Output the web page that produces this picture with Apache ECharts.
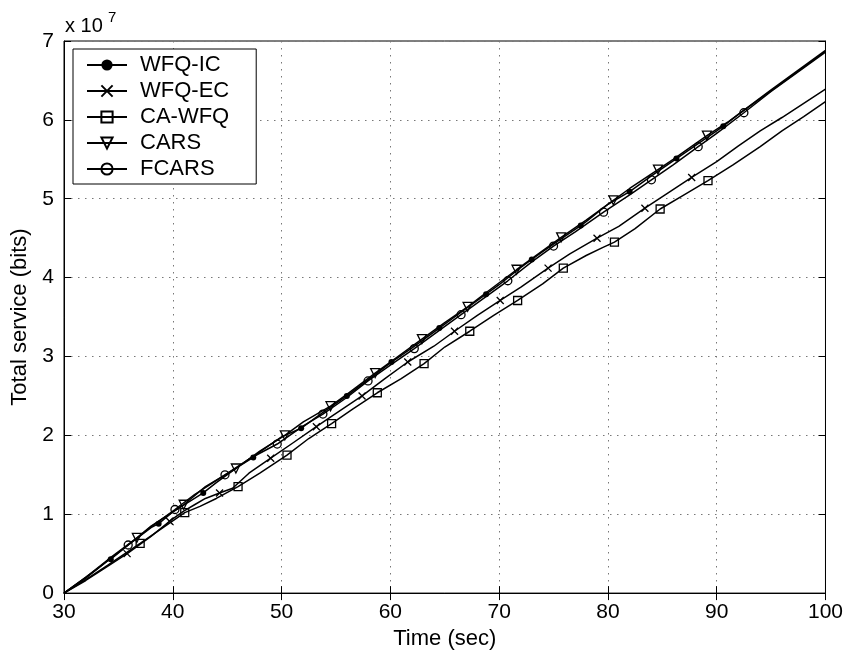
<!DOCTYPE html>
<html><head><meta charset="utf-8">
<script src="https://cdn.jsdelivr.net/npm/echarts@6/dist/echarts.min.js"></script>
<style>html,body{margin:0;padding:0;background:#fff}#c{width:846px;height:655px}</style>
</head><body><div id="c"></div><script>
// values in units of 10^7 bits
const xTickLabels = [30,40,50,60,70,80,90,100];
const yTickLabels = [0,1,2,3,4,5,6,7];
const seriesNames = ['WFQ-IC','WFQ-EC','CA-WFQ','CARS','FCARS'];

const wfqIcCurve = [[30,0],[32,0.19],[34,0.41],[36,0.62],[38,0.83],[40,1.03],[42,1.20],[44,1.40],[46,1.60],[48,1.79],[50,1.98],[52,2.11],[54,2.31],[56,2.50],[58,2.71],[60,2.92],[62,3.11],[64,3.31],[66,3.51],[68,3.71],[70,3.91],[72,4.13],[74,4.33],[76,4.52],[78,4.71],[80,4.93],[82,5.09],[84,5.29],[86,5.48],[88,5.67],[90,5.86],[92,6.07],[94,6.27],[96,6.47],[98,6.67],[100,6.87]];
const wfqIcMarks = [[34.3,0.43],[38.7,0.88],[42.8,1.27],[47.4,1.72],[51.8,2.09],[56.0,2.50],[60.1,2.93],[64.5,3.36],[68.8,3.79],[73.0,4.23],[77.5,4.66],[82.0,5.09],[86.3,5.51],[90.6,5.92]];

const wfqEcCurve = [[30,0],[32,0.16],[34,0.34],[36,0.52],[38,0.72],[40,0.94],[41,1.04],[42,1.12],[43,1.20],[45.5,1.33],[47,1.52],[51,1.90],[55,2.28],[59.5,2.72],[64,3.13],[68,3.52],[72,3.88],[76.5,4.30],[81,4.65],[85.5,5.07],[90,5.47],[92,5.67],[94,5.86],[96,6.03],[98,6.21],[100,6.39]];
const wfqEcMarks = [[35.8,0.50],[39.7,0.91],[44.3,1.27],[49.0,1.71],[53.2,2.11],[57.4,2.50],[61.6,2.93],[65.9,3.32],[70.1,3.71],[74.5,4.12],[79.0,4.50],[83.4,4.88],[87.7,5.27]];

const caWfqCurve = [[30,0],[32,0.17],[34,0.35],[39,0.82],[42.5,1.10],[44,1.20],[48,1.52],[52.5,1.96],[56.5,2.33],[61,2.72],[65,3.12],[69.5,3.52],[74,3.92],[78,4.28],[79.5,4.38],[82.5,4.62],[87,5.05],[91.5,5.43],[94,5.66],[96,5.86],[98,6.04],[100,6.23]];
const caWfqMarks = [[37.0,0.63],[41.1,1.02],[46.0,1.35],[50.5,1.75],[54.6,2.15],[58.8,2.54],[63.1,2.91],[67.3,3.32],[71.7,3.71],[75.9,4.12],[80.6,4.45],[84.8,4.87],[89.2,5.23]];

const carsCurve = [[30,0],[32,0.20],[34,0.42],[38,0.85],[43,1.35],[48,1.80],[52,2.17],[56,2.52],[60,2.93],[65,3.43],[69,3.83],[73,4.24],[78,4.73],[82,5.13],[86,5.50],[91,5.97],[95,6.38],[100,6.88]];
const carsMarks = [[36.7,0.70],[41.0,1.12],[45.8,1.58],[50.3,2.00],[54.5,2.37],[58.6,2.79],[62.9,3.22],[67.1,3.63],[71.6,4.10],[75.7,4.51],[80.5,4.98],[84.6,5.37],[89.1,5.80]];

const fcarsCurve = [[30,0],[33,0.30],[38,0.84],[42,1.25],[47,1.70],[52,2.12],[56,2.48],[60,2.89],[64,3.28],[68,3.68],[73,4.20],[77,4.58],[82,5.05],[86,5.43],[90,5.83],[95,6.36],[100,6.86]];
const fcarsMarks = [[35.9,0.61],[40.2,1.06],[44.8,1.50],[49.6,1.89],[53.8,2.27],[57.95,2.69],[62.2,3.10],[66.5,3.53],[70.8,3.96],[75.0,4.40],[79.6,4.83],[84.0,5.24],[88.3,5.66],[92.5,6.09]];

function merge(curve, marks){
  const pts = curve.map(p => ({value:[p[0],p[1]], symbol:'none'}))
    .concat(marks.map(p => ({value:[p[0],p[1]]})));
  pts.sort((a,b)=>a.value[0]-b.value[0]);
  return pts;
}

const FONT = '"Liberation Sans", Arial, Helvetica, sans-serif';
const hollow = 'rgba(0,0,0,0)';
function mk(name, curve, marks, symbol, size, filled, rotate){
  return {
    name, type:'line', data: merge(curve, marks),
    symbol, symbolSize:size, symbolRotate: rotate||0, showSymbol:true,
    lineStyle:{color:'#000', width:1.5},
    itemStyle:{color: filled ? '#000' : hollow, borderColor:'#000', borderWidth: filled?0:1.3},
    emphasis:{disabled:true}, animation:false, z: 3
  };
}

const chart = echarts.init(document.getElementById('c'), null, {renderer:'canvas'});
const axisLabelStyle = {color:'#000', fontSize:21, fontFamily:FONT};
const gridLine = {show:true, lineStyle:{color:'#777', width:1, type:[1.5,5.5]}};
const option = {
  backgroundColor:'#fff',
  animation:false,
  grid:{left:64, right:20, top:41, bottom:55, show:true, borderColor:'#000', borderWidth:1, backgroundColor:'transparent'},
  xAxis:[{
    type:'value', min:30, max:100, interval:10, position:'bottom',
    name:'Time (sec)', nameLocation:'middle', nameGap:28,
    nameTextStyle:{color:'#000', fontSize:22, fontFamily:FONT},
    axisLine:{show:true, lineStyle:{color:'#000', width:1}},
    axisTick:{show:true, inside:true, length:7, lineStyle:{color:'#000'}},
    axisLabel:Object.assign({margin:9, formatter: v => xTickLabels.includes(v) ? String(v) : ''}, axisLabelStyle),
    splitLine:gridLine
  },{
    type:'value', min:30, max:100, interval:10, position:'top',
    axisLine:{show:true, lineStyle:{color:'#000'}},
    axisTick:{show:true, inside:true, length:7, lineStyle:{color:'#000'}},
    axisLabel:{show:false}, splitLine:{show:false}
  }],
  yAxis:[{
    type:'value', min:0, max:7, interval:1, position:'left',
    name:'Total service (bits)', nameLocation:'middle', nameGap:30, nameRotate:90,
    nameTextStyle:{color:'#000', fontSize:22, fontFamily:FONT},
    axisLine:{show:true, lineStyle:{color:'#000', width:1}},
    axisTick:{show:true, inside:true, length:7, lineStyle:{color:'#000'}},
    axisLabel:Object.assign({margin:10, formatter: v => yTickLabels.includes(v) ? String(v) : ''}, axisLabelStyle),
    splitLine:gridLine
  },{
    type:'value', min:0, max:7, interval:1, position:'right',
    axisLine:{show:true, lineStyle:{color:'#000'}},
    axisTick:{show:true, inside:true, length:7, lineStyle:{color:'#000'}},
    axisLabel:{show:false}, splitLine:{show:false}
  }],
  legend:{
    data: seriesNames,
    orient:'vertical', left:73, top:49,
    backgroundColor:'#fff', borderColor:'#000', borderWidth:1, borderRadius:0,
    padding:[5,27,4,13],
    itemWidth:40, itemHeight:14, itemGap:4.0,
    textStyle:{color:'#000', fontSize:22, fontFamily:FONT, lineHeight:21, padding:[0,0,0,8]},
    selectedMode:false
  },
  graphic:[
    {type:'text', left:65, top:16, style:{text:'x 10', fontSize:20, fontFamily:FONT, fill:'#000'}},
    {type:'text', left:108, top:10, style:{text:'7', fontSize:15, fontFamily:FONT, fill:'#000'}}
  ],
  series:[
    mk('WFQ-IC', wfqIcCurve, wfqIcMarks, 'circle', 6, true),
    mk('WFQ-EC', wfqEcCurve, wfqEcMarks, 'path://M0,0L10,10M10,0L0,10', 7, false),
    mk('CA-WFQ', caWfqCurve, caWfqMarks, 'rect', 8, false),
    mk('CARS', carsCurve, carsMarks, 'triangle', 9, false, 180),
    mk('FCARS', fcarsCurve, fcarsMarks, 'circle', 8, false)
  ]
};
chart.setOption(option);
</script></body></html>
